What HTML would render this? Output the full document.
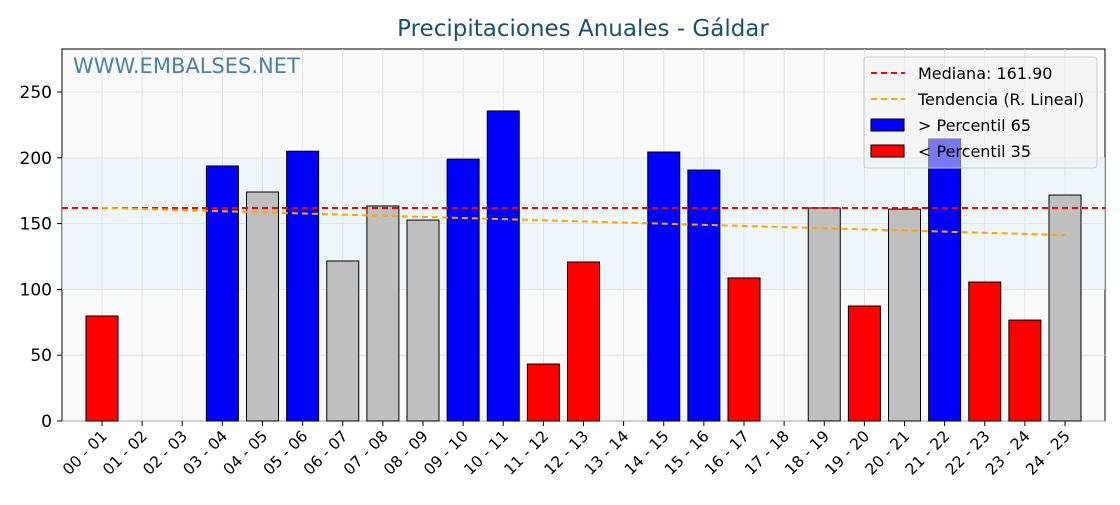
<!DOCTYPE html>
<html><head><meta charset="utf-8"><style>
body{margin:0;background:#fff;font-family:"Liberation Sans","DejaVu Sans",sans-serif}
</style></head><body>
<svg id="c" width="1120" height="500" xmlns="http://www.w3.org/2000/svg">
<text x="583" y="36" text-anchor="middle" font-size="23" fill="#1a4f72" font-family="DejaVu Sans, Liberation Sans, sans-serif">Precipitaciones Anuales - Gáldar</text>
<rect x="62" y="49" width="1043" height="372" fill="#f9f9f9" stroke="#000" stroke-width="1"/>
<g id="grid"></g><g id="bars"></g><g id="lines"></g><g id="axes"></g>
<text x="73" y="73" font-size="21" fill="#4a7fa6" font-family="DejaVu Sans, Liberation Sans, sans-serif">WWW.EMBALSES.NET</text>
<g>
<rect x="864" y="57" width="233" height="111" rx="3" fill="#f2f2f2" fill-opacity="0.5" stroke="#ccc"/>
<line x1="871" y1="73" x2="905" y2="73" stroke="red" stroke-width="2" stroke-dasharray="6,4"/>
<text x="918" y="79" font-size="16" font-family="DejaVu Sans, Liberation Sans, sans-serif">Mediana: 161.90</text>
<line x1="871" y1="99" x2="905" y2="99" stroke="orange" stroke-width="2" stroke-dasharray="6,4"/>
<text x="918" y="105" font-size="16" font-family="DejaVu Sans, Liberation Sans, sans-serif">Tendencia (R. Lineal)</text>
<rect x="871" y="119" width="33" height="12" fill="blue" stroke="#000"/>
<text x="918" y="131" font-size="16" font-family="DejaVu Sans, Liberation Sans, sans-serif"> &gt; Percentil 65</text>
<rect x="871" y="145" width="33" height="12" fill="red" stroke="#000"/>
<text x="918" y="157" font-size="16" font-family="DejaVu Sans, Liberation Sans, sans-serif"> &lt; Percentil 35</text>
</g>
</svg>
<script>
const categories=["00 - 01","01 - 02","02 - 03","03 - 04","04 - 05","05 - 06","06 - 07","07 - 08","08 - 09","09 - 10","10 - 11","11 - 12","12 - 13","13 - 14","14 - 15","15 - 16","16 - 17","17 - 18","18 - 19","19 - 20","20 - 21","21 - 22","22 - 23","23 - 24","24 - 25"];
const values=[79.8,0,0,193.8,174,205,121.6,163.4,152.7,199,235.6,43.3,120.8,0,204.4,190.7,108.7,0,161.9,87.4,161,214.3,105.6,76.7,171.7];
const yTicks=[0,50,100,150,200,250];
const median=161.9, p65=180, p35=121;
const trendStart=162, trendEnd=141.3;
const NS="http://www.w3.org/2000/svg";
const X=i=>102+i*40.125, Y=v=>421-v*1.316;
function mk(t,a,p){const e=document.createElementNS(NS,t);for(const k in a)e.setAttribute(k,a[k]);p.appendChild(e);return e;}
const grid=document.getElementById('grid'),bars=document.getElementById('bars'),lines=document.getElementById('lines'),axes=document.getElementById('axes');
const band=mk('rect',{x:62,y:Y(200),width:1043,height:Y(100)-Y(200),fill:'#e8f4f8',opacity:0.7},grid);


yTicks.forEach(t=>{
 mk('line',{x1:62,x2:1105,y1:Y(t),y2:Y(t),stroke:'#ddd','stroke-width':0.8},grid);
 mk('line',{x1:57,x2:62,y1:Y(t),y2:Y(t),stroke:'#000'},axes);
 const tx=mk('text',{x:52,y:Y(t)+6,'text-anchor':'end','font-size':17,'font-family':'DejaVu Sans, Liberation Sans, sans-serif'},axes);
 tx.textContent=t;
 
 
});
categories.forEach((c,i)=>{
 mk('line',{x1:X(i),x2:X(i),y1:49,y2:421,stroke:'#ddd','stroke-width':0.8},grid);
 mk('line',{x1:X(i),x2:X(i),y1:421,y2:426,stroke:'#000'},axes);
 const tx=mk('text',{x:X(i)+6,y:437,'text-anchor':'end','font-size':15.5,'font-family':'DejaVu Sans, Liberation Sans, sans-serif',transform:`rotate(-45 ${X(i)+6} 437)`},axes);
 tx.textContent=c;
 
 
 const v=values[i];
 if(v>0){
  const col=v>p65?'blue':(v<p35?'red':'#bfbfbf');
  const r=mk('rect',{x:X(i)-16,y:Y(v),width:32,height:421-Y(v),fill:col,stroke:'#000','stroke-width':1},bars);
  
  
 }
});
const ml=mk('line',{x1:62,x2:1105,y1:Y(median),y2:Y(median),stroke:'red','stroke-width':2,'stroke-dasharray':'6,4'},lines);


const tl=mk('line',{x1:X(0),x2:X(categories.length-1),y1:Y(trendStart),y2:Y(trendEnd),stroke:'orange','stroke-width':2,'stroke-dasharray':'6,4'},lines);


</script>
</body></html>
